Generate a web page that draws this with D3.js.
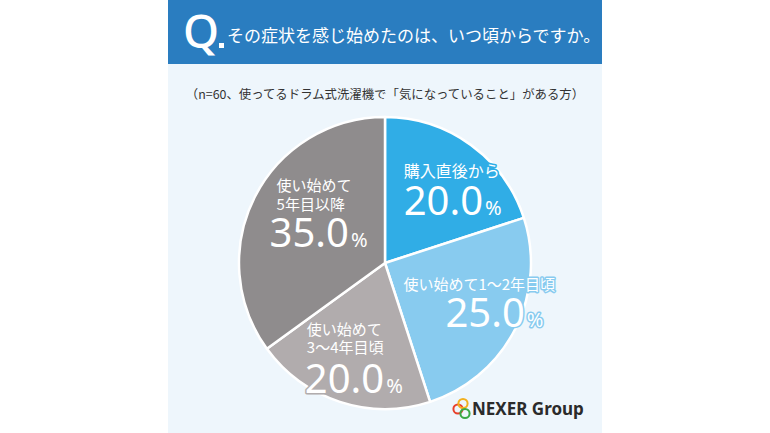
<!DOCTYPE html>
<html lang="ja">
<head>
<meta charset="UTF-8">
<title>その症状を感じ始めたのは、いつ頃からですか。</title>
<script src="https://d3js.org/d3.v7.min.js"></script>
<style>
  body { margin: 0; background: #fff; }
  svg { display: block; }
  text { font-family: "Noto Sans CJK JP", "Noto Sans", sans-serif; }
</style>
</head>
<body>
<script>
// data
var categories = ["購入直後から", "使い始めて1〜2年目頃", "使い始めて3〜4年目頃", "使い始めて5年目以降"];
var labelLines = [["購入直後から"], ["使い始めて1〜2年目頃"], ["使い始めて", "3〜4年目頃"], ["使い始めて", "5年目以降"]];
var values = [20.0, 25.0, 20.0, 35.0];
var colors = ["#30ade6", "#88cbef", "#b1acad", "#8f8c8d"];

var title = "その症状を感じ始めたのは、いつ頃からですか。";
var note = "（n=60、使ってるドラム式洗濯機で「気になっていること」がある方）";

// label placement relative to each slice centroid
var labelOffsets = [
  { x: -33, lines: [-15], vx: -33, vy: 23, size: 16 },
  { x: -60, lines: [-13], vx: -18, vy: 24, size: 15 },
  { x: -51, lines: [-12, 6], vx: -53, vy: 46, size: 15 },
  { x: -30, lines: [-32, -13], vx: -37, vy: 24, size: 15 }
];

var W = 770, H = 433;
var panel = { x: 168, w: 434 };
var cx = 385, cy = 263, r = 146;

var svg = d3.select("body").append("svg")
  .attr("width", W)
  .attr("height", H);

svg.append("rect")
  .attr("x", panel.x).attr("y", 0)
  .attr("width", panel.w).attr("height", H)
  .attr("fill", "#eef6fc");

svg.append("rect")
  .attr("x", panel.x).attr("y", 0)
  .attr("width", panel.w).attr("height", 64)
  .attr("fill", "#2a7dc0");

svg.append("text")
  .attr("x", 183).attr("y", 48)
  .attr("fill", "#fff")
  .style("font-family", "'Noto Sans', sans-serif")
  .style("font-size", "46px")
  .style("font-weight", 500)
  .text("Q");

svg.append("rect")
  .attr("x", 219).attr("y", 43)
  .attr("width", 5).attr("height", 5)
  .attr("fill", "#fff");

svg.append("text")
  .attr("x", 227).attr("y", 42)
  .attr("fill", "#fff")
  .style("font-size", "17px")
  .text(title);

svg.append("text")
  .attr("x", cx).attr("y", 99)
  .attr("text-anchor", "middle")
  .attr("fill", "#333")
  .style("font-size", "12.4px")
  .text(note);

// pie
var pie = d3.pie().sort(null).value(function (d) { return d; });
var arcs = pie(values);
var arc = d3.arc().innerRadius(0).outerRadius(r);
var labelArc = d3.arc().innerRadius(88).outerRadius(88);

var g = svg.append("g").attr("transform", "translate(" + cx + "," + cy + ")");

g.selectAll("path.slice")
  .data(arcs)
  .enter().append("path")
  .attr("class", "slice")
  .attr("d", arc)
  .attr("fill", function (d, i) { return colors[i]; })
  .attr("stroke", "#fff")
  .attr("stroke-width", 2.5)
  .attr("stroke-linejoin", "round");

var labels = g.selectAll("g.label")
  .data(arcs)
  .enter().append("g")
  .attr("class", "label")
  .attr("transform", function (d) {
    var c = labelArc.centroid(d);
    return "translate(" + c[0] + "," + c[1] + ")";
  });

labels.each(function (d, i) {
  var sel = d3.select(this);
  var off = labelOffsets[i];
  labelLines[i].forEach(function (line, k) {
    sel.append("text")
      .attr("x", off.x).attr("y", off.lines[k])
      .attr("fill", "#fff")
      .attr("stroke", colors[i])
      .attr("stroke-width", 3)
      .attr("stroke-linejoin", "round")
      .style("paint-order", "stroke")
      .style("font-size", off.size + "px")
      .text(line);
  });
  var v = sel.append("text")
    .attr("x", off.vx).attr("y", off.vy)
    .attr("fill", "#fff")
    .attr("stroke", colors[i])
    .attr("stroke-width", 3)
    .attr("stroke-linejoin", "round")
    .style("paint-order", "stroke")
    .style("font-family", "'Noto Sans', sans-serif")
    .style("font-weight", 400);
  v.append("tspan")
    .style("font-size", "40px")
    .text(d3.format(".1f")(d.data));
  v.append("tspan")
    .attr("dx", 2)
    .style("font-size", "20px")
    .text("%");
});

// logo
var logo = svg.append("g");
[["#e8412c", 458, 409], ["#f2b01e", 463, 403.5], ["#3aa945", 465, 413.5]].forEach(function (c) {
  logo.append("circle")
    .attr("cx", c[1]).attr("cy", c[2]).attr("r", 4.6)
    .attr("fill", "none")
    .attr("stroke", c[0])
    .attr("stroke-width", 2);
});
logo.append("text")
  .attr("x", 472).attr("y", 415)
  .attr("fill", "#2b2b2b")
  .style("font-family", "'Noto Sans', sans-serif")
  .style("font-size", "17px")
  .style("font-weight", 700)
  .text("NEXER Group");
</script>
</body>
</html>
